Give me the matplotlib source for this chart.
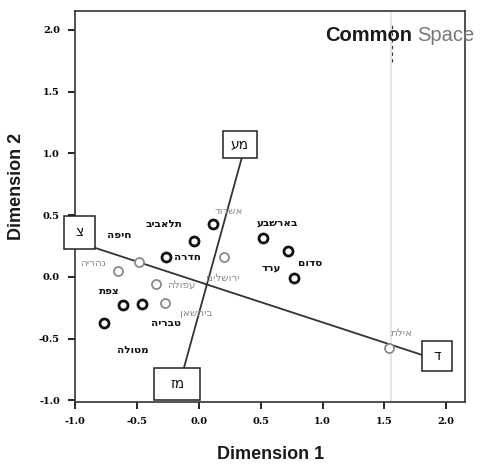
import matplotlib.pyplot as plt
from matplotlib.patches import Rectangle

# city points (Dimension 1, Dimension 2); faded = printed in grey
point_x = [0.113, -0.040, -0.266, 0.516, 0.718, 0.766, -0.613, -0.460, -0.766,
           0.202, -0.484, -0.653, -0.347, -0.274, 1.540]
point_y = [0.429, 0.291, 0.162, 0.316, 0.211, -0.008, -0.227, -0.219, -0.372,
           0.162, 0.121, 0.049, -0.057, -0.211, -0.575]
point_faded = [False] * 9 + [True] * 6

# city names and where they are written
city_names = ['חיפה', 'תלאביב', 'בארשבע', 'חדרה', 'סדום', 'ערד', 'צפת', 'טבריה', 'מטולה',
              'אשדוד', 'נהריה', 'עפולה', 'ירושלים', 'ביתשאן', 'אילת']
label_x = [-0.645, -0.282, 0.637, -0.089, 0.903, 0.581, -0.726, -0.266, -0.532,
           0.242, -0.855, -0.145, 0.194, -0.024, 1.645]
label_y = [0.340, 0.429, 0.437, 0.162, 0.113, 0.073, -0.113, -0.372, -0.591,
           0.534, 0.113, -0.065, -0.008, -0.291, -0.453]
label_faded = [False] * 9 + [True] * 6

# direction vectors (start, end) and their boxed labels
vector_start_x = [-0.839, 0.347]
vector_start_y = [0.235, 0.964]
vector_end_x = [1.806, -0.121]
vector_end_y = [-0.632, -0.737]

box_names = ['צ', 'ד', 'מע', 'מז']
box_x = [-0.964, 1.927, 0.331, -0.177]
box_y = [0.360, -0.640, 1.073, -0.866]
box_w = [0.25, 0.242, 0.274, 0.379]
box_h = [0.267, 0.243, 0.219, 0.259]

x_ticks = [-1.0, -0.5, 0.0, 0.5, 1.0, 1.5, 2.0]
y_ticks = [-1.0, -0.5, 0.0, 0.5, 1.0, 1.5, 2.0]


def heb(s):
    # matplotlib has no bidi support, so lay the letters out right-to-left by hand
    return s[::-1]


fig = plt.figure(figsize=(4.82, 4.69), dpi=100)
ax = fig.add_axes([0.156, 0.143, 0.809, 0.834])
ax.set_xlim(-0.992, 2.153)
ax.set_ylim(-1.012, 2.154)

# scan artefacts: faint vertical streak and a short dashed mark under the title
ax.axvline(1.55, color='#e6e6e6', lw=1.5, zorder=0)
ax.plot([1.56, 1.56], [1.74, 2.04], color='#333333', lw=0.8, ls=(0, (3, 3)), zorder=1)

for i in range(len(vector_start_x)):
    ax.plot([vector_start_x[i], vector_end_x[i]], [vector_start_y[i], vector_end_y[i]],
            color='#333333', lw=1.3, zorder=2)

for x, y, faded in zip(point_x, point_y, point_faded):
    ax.plot(x, y, 'o', ms=6.5, mfc='white', mec='#8a8a8a' if faded else '#111111',
            mew=1.3 if faded else 2.0, zorder=3)

for name, x, y, faded in zip(city_names, label_x, label_y, label_faded):
    ax.text(x, y, heb(name), ha='center', va='center', fontsize=7.5,
            fontweight='normal' if faded else 'bold',
            color='#8a8a8a' if faded else '#111111', family=['DejaVu Sans'], zorder=4)

for name, x, y, w, h in zip(box_names, box_x, box_y, box_w, box_h):
    ax.add_patch(Rectangle((x - w / 2, y - h / 2), w, h, fc='white', ec='#222222',
                           lw=1.1, zorder=5, clip_on=False))
    ax.text(x, y, heb(name), ha='center', va='center', fontsize=10,
            family=['DejaVu Sans'], color='#111111', zorder=6, clip_on=False)

ax.text(0.864, 0.937, 'Common', transform=ax.transAxes, ha='right', va='center',
        fontsize=14.5, fontweight='bold', family=['Liberation Sans'], color='#1a1a1a')
ax.text(0.877, 0.937, 'Space', transform=ax.transAxes, ha='left', va='center',
        fontsize=14.5, family=['Liberation Sans'], color='#777777', clip_on=False)

ax.set_xticks(x_ticks)
ax.set_yticks(y_ticks)
ax.set_xticklabels([f'{t:.1f}' for t in x_ticks])
ax.set_yticklabels([f'{t:.1f}' for t in y_ticks])
ax.tick_params(direction='out', length=5, width=1.2, labelsize=7, pad=6)
for lab in ax.get_xticklabels() + ax.get_yticklabels():
    lab.set_fontweight('bold')
    lab.set_family('DejaVu Serif')

for sp in ax.spines.values():
    sp.set_color('#333333')
    sp.set_linewidth(1.2)

ax.set_xlabel('Dimension 1', fontsize=13, fontweight='bold', family=['Liberation Sans'],
              color='#1a1a1a', labelpad=14)
ax.set_ylabel('Dimension 2', fontsize=13, fontweight='bold', family=['Liberation Sans'],
              color='#1a1a1a', labelpad=14)
ax.yaxis.set_label_coords(-0.13, 0.55)

fig.savefig('out.png', dpi=100)
